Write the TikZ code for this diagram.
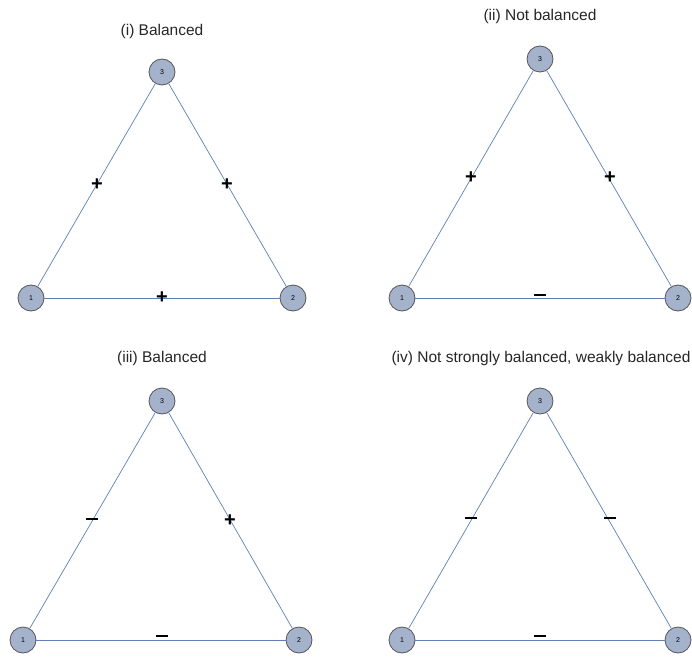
\documentclass[tikz,border=0pt]{standalone}
\usepackage{fontspec}
\setmainfont{Liberation Sans}
\definecolor{nodefill}{HTML}{A4B2CC}
\definecolor{nodeedge}{HTML}{555555}
\definecolor{edgecol}{HTML}{5F7FB5}
\begin{document}
\begin{tikzpicture}[x=1pt,y=1pt,
  vtx/.style={circle,draw=nodeedge,fill=nodefill,line width=0.8pt,minimum size=26pt,inner sep=0pt,font=\fontsize{7}{8}\selectfont},
  edg/.style={draw=edgecol,line width=0.7pt},
  ttl/.style={font=\fontsize{15.5}{17}\selectfont,text=black!85},
  sgn/.style={font=\fontsize{20}{22}\selectfont\bfseries,inner sep=0pt}]
\useasboundingbox (0,0) rectangle (692,657);
% panel (i)
\node[ttl] (t1) at (162,626) {(i) Balanced};
\node[vtx] (a3) at (162,585) {3};
\node[vtx] (a1) at (31,359) {1};
\node[vtx] (a2) at (293,359) {2};
\draw[edg] (a3) -- (a1); \draw[edg] (a3) -- (a2); \draw[edg] (a1) -- (a2);
\node[sgn] (s11) at (97,472) {+};
\node[sgn] (s12) at (227,472) {+};
\node[sgn] (s13) at (162,359) {+};
% panel (ii)
\node[ttl] (t2) at (540,641) {(ii) Not balanced};
\node[vtx] (b3) at (540,598) {3};
\node[vtx] (b1) at (402,359) {1};
\node[vtx] (b2) at (678,359) {2};
\draw[edg] (b3) -- (b1); \draw[edg] (b3) -- (b2); \draw[edg] (b1) -- (b2);
\node[sgn] (s21) at (471,479) {+};
\node[sgn] (s22) at (610,479) {+};
\node[sgn] (s23) at (540,362) {\rule{12pt}{2.2pt}};
% panel (iii)
\node[ttl] (t3) at (162,299) {(iii) Balanced};
\node[vtx] (c3) at (162,256) {3};
\node[vtx] (c1) at (23,17) {1};
\node[vtx] (c2) at (299,17) {2};
\draw[edg] (c3) -- (c1); \draw[edg] (c3) -- (c2); \draw[edg] (c1) -- (c2);
\node[sgn] (s31) at (92,138) {\rule{12pt}{2.2pt}};
\node[sgn] (s32) at (230,136) {+};
\node[sgn] (s33) at (162,21) {\rule{12pt}{2.2pt}};
% panel (iv)
\node[ttl] (t4) at (541,299) {(iv) Not strongly balanced, weakly balanced};
\node[vtx] (d3) at (540,256) {3};
\node[vtx] (d1) at (402,17) {1};
\node[vtx] (d2) at (678,17) {2};
\draw[edg] (d3) -- (d1); \draw[edg] (d3) -- (d2); \draw[edg] (d1) -- (d2);
\node[sgn] (s41) at (471,139) {\rule{12pt}{2.2pt}};
\node[sgn] (s42) at (610,139) {\rule{12pt}{2.2pt}};
\node[sgn] (s43) at (540,21) {\rule{12pt}{2.2pt}};
\end{tikzpicture}
\end{document}
